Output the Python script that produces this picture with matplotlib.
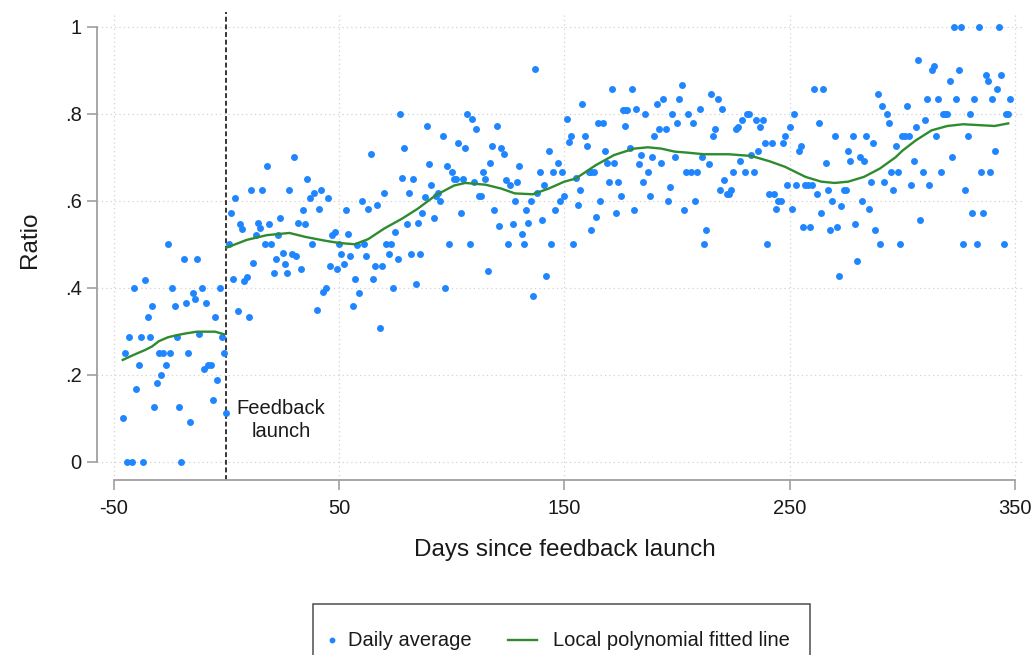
import numpy as np
import matplotlib
matplotlib.use("Agg")
import matplotlib.pyplot as plt
from matplotlib.lines import Line2D
from matplotlib.patches import Rectangle

plt.rcParams["font.family"] = ["Liberation Sans", "DejaVu Sans"]
plt.rcParams["axes.unicode_minus"] = False

# daily average ratio, by day relative to the feedback launch
days = [
    -46, -45, -44, -43, -42, -41, -40, -39, -38, -37, -36, -35, -34, -33, -32, -31,
    -30, -29, -28, -27, -26, -25, -24, -23, -22, -21, -20, -19, -18, -17, -16, -15,
    -14, -13, -12, -11, -10, -9, -8, -7, -6, -5, -4, -3, -2, -1,
    0, 1, 2, 3, 4, 5, 6, 7, 8, 9, 10, 11, 12, 13, 14, 15, 16, 17, 18, 19, 20,
    21, 22, 23, 24, 25, 26, 27, 28, 29, 30, 31, 32, 33, 34, 35, 36, 37, 38, 39, 40,
    41, 42, 43, 44, 45, 46, 47, 48, 49, 50, 51, 52, 53,
    54, 55, 56, 57, 58, 59, 60, 61, 62, 63, 64, 65, 66, 67, 68, 69, 70, 71, 72, 73,
    74, 75, 76, 77, 78, 79, 80, 81, 82, 83, 84, 85, 86, 87, 88, 89, 90, 91, 92, 93,
    94, 95, 96, 97, 98, 99, 100, 101,
    102, 103, 104, 105, 106, 107, 108, 109, 110, 111, 112, 113, 114, 115, 116, 117,
    118, 119, 120, 121, 122, 123, 124, 125, 126, 127, 128, 129, 130, 131, 132, 133,
    134, 135, 136, 137, 138, 139, 140, 141, 142, 143, 144, 145, 146, 147, 148, 149,
    150, 151,
    152, 153, 154, 155, 156, 157, 158, 159, 160, 161, 162, 162, 163, 164, 165, 166,
    167, 168, 169, 170, 171, 172, 173, 174, 175, 176, 177, 177, 178, 179, 180, 181,
    182, 183, 184, 185, 186, 187, 188, 189, 190, 191, 192, 193, 194, 195, 196, 197,
    198, 199, 200,
    201, 202, 203, 204, 205, 206, 207, 208, 209, 210, 211, 212, 213, 214, 215, 216,
    217, 218, 219, 220, 221, 222, 223, 224, 225, 226, 227, 228, 229, 230, 231, 232,
    233, 234, 235, 236, 237, 238, 239, 240, 241, 242, 243, 244, 245, 246, 247, 248,
    249, 250, 251, 252, 253, 254, 255, 256, 257, 258, 259, 260, 261, 262, 263, 264,
    265, 266, 267, 268, 269, 270, 271, 272, 273, 274, 275, 276, 277, 278, 279, 280,
    281, 282, 283, 284, 285, 286, 287, 288, 289, 290, 291, 292, 293, 294, 295, 296,
    297,
    298, 299, 300, 301, 302, 303, 304, 305, 306, 307, 308, 309, 310, 311, 312, 313,
    314, 315, 316, 317, 318, 319, 320, 321, 322, 323, 324, 325, 326, 327, 328, 329,
    330, 331, 332, 333, 334, 335, 336, 337, 338, 339, 340, 341, 342, 343, 344, 345,
    346, 347, 348,
]
ratio = [
    .10, .25, 0, .286, 0, .40, .167, .222, .286, 0, .417, .333, .286, .357, .125, .182,
    .25, .20, .25, .222, .50, .25, .40, .357, .286, .125, 0, .467, .364, .25, .091, .389,
    .375, .467, .294, .40, .214, .364, .222, .222, .143, .333, .188, .40, .286, .25,
    .111, .50, .571, .42, .607, .347, .546, .536, .416, .424, .333, .625, .457, .521, .55,
    .538, .625, .50, .68, .546, .50,
    .434, .465, .521, .561, .48, .454, .434, .625, .478, .70, .474, .55, .444, .579, .546,
    .649, .607, .50, .618, .349,
    .582, .625, .39, .40, .607, .45, .521, .529, .444, .50, .477, .454, .579,
    .523, .474, .359, .421, .498, .389, .599, .50, .474, .582, .708, .421, .45, .59, .307,
    .45, .618, .50, .478, .50,
    .40, .529, .465, .80, .652, .722, .546, .618, .477, .649, .408, .549, .478, .571, .608,
    .772, .684, .636, .561, .611,
    .618, .599, .749, .40, .68, .50, .667, .649,
    .649, .733, .571, .649, .722, .80, .50, .789, .644, .764, .611, .611, .667, .649, .438,
    .688,
    .727, .579, .772, .542, .722, .708, .647, .50, .636, .546, .599, .644, .68, .523, .50,
    .579,
    .549, .599, .381, .904, .618, .667, .556, .636, .428, .714, .50, .667, .579, .688, .599,
    .667,
    .611, .789,
    .735, .749, .50, .652, .59, .625, .823, .749, .727, .667, .667, .533, .667, .562, .778,
    .599,
    .778, .714, .688, .644, .857, .688, .571, .644, .611, .808, .808, .772, .808, .722, .857,
    .579,
    .812, .684, .705, .644, .80, .667, .611, .70, .749, .823, .764, .688, .834, .764, .599,
    .631,
    .80, .70, .778,
    .834, .867, .579, .667, .80, .667, .778, .599, .667, .812, .70, .50, .533, .684, .846,
    .749,
    .764, .834, .625, .812, .647, .615, .615, .625, .667, .764, .769, .692, .785, .667, .80,
    .80,
    .706, .667, .785, .714, .769, .785, .733, .50, .615, .733, .615, .582, .599, .599, .733,
    .749,
    .636, .769, .582, .80, .636, .714, .727, .539, .636, .636, .539, .636, .857, .615, .778,
    .571,
    .857, .688, .625, .533, .599, .749, .539, .428, .589, .625, .625, .714, .692, .749, .546,
    .462,
    .70, .599, .692, .749, .582, .644, .733, .533, .846, .50, .818, .644, .80, .778, .667,
    .625,
    .727,
    .667, .50, .749, .749, .818, .749, .636, .692, .769, .924, .556, .667, .785, .834, .636,
    .90,
    .91, .749, .834, .667, .80, .80, .80, .875, .70, 1.0, .834, .90, 1.0, .50, .625,
    .749,
    .80, .571, .834, .50, 1.0, .667, .571, .889, .875, .667, .834, .714, .857, 1.0, .889,
    .50,
    .80, .80, .834,
]

# local polynomial fit, estimated separately before and after the launch
fit_pre_days = [-46, -41, -36, -33, -30, -26, -22, -18, -13, -9, -5, -1]
fit_pre = [.234, .246, .257, .265, .277, .286, .291, .295, .299, .299, .299, .293]
fit_post_days = [0, 9, 18, 28, 35, 44, 50, 57, 63, 70, 78, 85, 93, 101, 106, 115, 122,
                 128, 136, 143, 150, 155, 164, 172, 181, 187, 193, 199, 204, 212, 223,
                 233, 241, 248, 257, 264, 270, 276, 283, 290, 297, 300, 306, 313, 320,
                 327, 334, 341, 347]
fit_post = [.492, .51, .521, .526, .517, .508, .503, .50, .512, .536, .559, .582, .613,
            .635, .641, .637, .628, .617, .615, .628, .644, .651, .682, .705, .72, .723,
            .72, .713, .711, .707, .707, .703, .691, .678, .655, .644, .641, .644, .655,
            .674, .70, .715, .739, .762, .772, .776, .774, .772, .778]

launch_day = 0
xticks = [-50, 50, 150, 250, 350]
yticks = [0, .2, .4, .6, .8, 1]
ytick_labels = ["0", ".2", ".4", ".6", ".8", "1"]

BLUE = "#1f86ff"
GREEN = "#2e8b2e"
AXIS_GRAY = "#a0a0a0"
TEXT = "#1a1a1a"

fig = plt.figure(figsize=(10.35, 6.55), dpi=100)
ax = fig.add_axes([0.0942, 0.2679, 0.8932, 0.7137])

ax.scatter(days, ratio, s=25, color=BLUE, linewidths=0, zorder=3)
ax.plot(fit_pre_days, fit_pre, color=GREEN, lw=1.7, zorder=4)
ax.plot(fit_post_days, fit_post, color=GREEN, lw=1.7, zorder=4)
ax.axvline(launch_day, color="black", lw=1.1, ls=(0, (3.2, 1.8)), zorder=2)
ax.text(24.3, 0.096, "Feedback\nlaunch", ha="center", va="center",
        fontsize=14.5, linespacing=1.25, color=TEXT)

ax.set_xlim(-57.2, 353.1)
ax.set_ylim(-0.041, 1.034)
ax.set_xticks(xticks)
ax.set_yticks(yticks)
ax.set_yticklabels(ytick_labels)

ax.grid(True, color="#d2d2d2", linestyle=(0, (1, 2.5)), linewidth=0.9)
ax.set_axisbelow(True)

for side in ["top", "right"]:
    ax.spines[side].set_visible(False)
ax.spines["left"].set_bounds(0, 1)
ax.spines["bottom"].set_bounds(-50, 350)
for side in ["left", "bottom"]:
    ax.spines[side].set_color(AXIS_GRAY)
    ax.spines[side].set_linewidth(1.3)

ax.tick_params(axis="both", length=7, width=1.2, color=AXIS_GRAY,
               labelsize=14.5, labelcolor=TEXT)
ax.tick_params(axis="y", pad=4.5)
ax.tick_params(axis="x", pad=7)

ax.set_xlabel("Days since feedback launch", fontsize=17.5, color=TEXT)
ax.xaxis.set_label_coords(0.5057, -0.1508)
ax.xaxis.label.set_va("center")
ax.set_ylabel("Ratio", fontsize=17.5, color=TEXT)
ax.yaxis.set_label_coords(-0.073, 0.512)
ax.yaxis.label.set_va("center")

# legend box below the plot, bottom edge runs past the figure
W, H = 1035, 655
fig.add_artist(Rectangle((313 / W, -0.05), (810 - 313) / W, 1 - 604 / H + 0.05,
                         transform=fig.transFigure, fill=False,
                         edgecolor="#4d4d4d", lw=1.1))
ly = 1 - 640 / H
fig.add_artist(Line2D([331.7 / W], [ly], marker="o", ms=3.2, color=BLUE,
                      lw=0, transform=fig.transFigure))
fig.text(348 / W, ly, "Daily average", fontsize=14.5, va="center", ha="left",
         color=TEXT)
fig.add_artist(Line2D([508 / W, 537 / W], [ly, ly], color=GREEN, lw=1.7,
                      transform=fig.transFigure))
fig.text(553 / W, ly, "Local polynomial fitted line", fontsize=14.5,
         va="center", ha="left", color=TEXT)

fig.savefig("out.png", dpi=100)
